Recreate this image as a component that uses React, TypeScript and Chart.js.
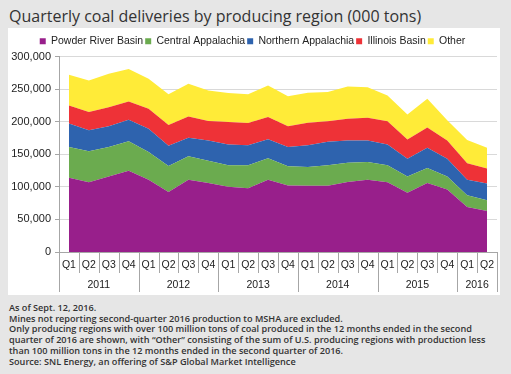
import { useEffect, useRef } from "react";
import { Chart, registerables } from "chart.js";
Chart.register(...registerables);

const quarters = ["Q1","Q2","Q3","Q4","Q1","Q2","Q3","Q4","Q1","Q2","Q3","Q4","Q1","Q2","Q3","Q4","Q1","Q2","Q3","Q4","Q1","Q2"];
const years = ["2011", "2012", "2013", "2014", "2015", "2016"];
const yearSpans = [4, 4, 4, 4, 4, 2];

const powderRiver = [114000,107000,116000,124500,111000,92000,111000,106000,100000,98000,111000,102000,101500,101500,107500,111000,107000,91000,106000,96000,69000,63000];
const centralApp = [47000,47500,45000,45500,42500,40000,36000,34000,33000,35000,33000,29500,29000,31500,29500,27000,26000,25000,23000,20000,18000,16500];
const northernApp = [36000,32500,32000,33000,35500,31000,28500,31000,32000,31000,29000,29500,33500,36000,34000,33000,32000,27000,31000,27000,24000,25500];
const illinois = [28000,28000,29000,28000,31000,32000,32500,30000,34500,34000,34000,32000,34500,31500,33500,35000,35500,29500,31000,28000,25000,23000];
const other = [47000,48000,51500,50000,46000,47000,50000,47000,44500,44000,48500,46000,46000,45000,49500,47000,39500,38500,44000,31000,36000,32000];

const yTicks = [0, 50000, 100000, 150000, 200000, 250000, 300000];

const footnotes = [
  "As of Sept. 12, 2016.",
  "Mines not reporting second-quarter 2016 production to MSHA are excluded.",
  "Only producing regions with over 100 million tons of coal produced in the 12 months ended in the second",
  "quarter of 2016 are shown, with \u201cOther\u201d consisting of the sum of U.S. producing regions with production less",
  "than 100 million tons in the 12 months ended in the second quarter of 2016.",
  "Source: SNL Energy, an offering of S&P Global Market Intelligence",
];

const FONT = "'Liberation Sans', Arial, sans-serif";

const xAxisPlugin = {
  id: "xAxisGroups",
  afterDraw(chart: any) {
    const ctx = chart.ctx;
    const x = chart.scales.x;
    const area = chart.chartArea;
    const n = quarters.length;
    const step = x.getPixelForValue(1) - x.getPixelForValue(0);
    const bottom = area.bottom;
    ctx.save();
    ctx.strokeStyle = "#a6a6a6";
    ctx.lineWidth = 1;
    ctx.fillStyle = "#222";
    ctx.font = "10.5px " + FONT;
    ctx.textAlign = "center";
    ctx.textBaseline = "middle";
    for (let i = 0; i < n; i++) {
      const c = x.getPixelForValue(i);
      ctx.fillText(quarters[i], c, bottom + 13);
      if (i > 0) {
        const b = Math.round(c - step / 2) + 0.5;
        ctx.beginPath();
        ctx.moveTo(b, bottom);
        ctx.lineTo(b, bottom + 21);
        ctx.stroke();
      }
    }
    let start = 0;
    for (let k = 0; k < years.length; k++) {
      const end = start + yearSpans[k] - 1;
      const l = x.getPixelForValue(start) - step / 2;
      const r = x.getPixelForValue(end) + step / 2;
      ctx.fillText(years[k], (l + r) / 2, bottom + 33);
      for (const b0 of [l, r]) {
        const b = Math.round(b0) + 0.5;
        ctx.beginPath();
        ctx.moveTo(b, bottom);
        ctx.lineTo(b, bottom + 40);
        ctx.stroke();
      }
      start = end + 1;
    }
    ctx.restore();
  },
};

export default function App() {
  const ref = useRef<HTMLCanvasElement>(null);
  useEffect(() => {
    if (!ref.current) return;
    const mk = (label: string, data: number[], color: string, fill: any) => ({
      label,
      data,
      backgroundColor: color,
      borderColor: color,
      borderWidth: 0,
      pointRadius: 0,
      fill,
      tension: 0,
    });
    const chart = new Chart(ref.current, {
      type: "line",
      data: {
        labels: quarters,
        datasets: [
          mk("Powder River Basin", powderRiver, "#981f8b", "origin"),
          mk("Central Appalachia", centralApp, "#6bab4f", "-1"),
          mk("Northern Appalachia", northernApp, "#2e63ae", "-1"),
          mk("Illinois Basin", illinois, "#ee3237", "-1"),
          mk("Other", other, "#ffeb38", "-1"),
        ],
      },
      options: {
        responsive: false,
        animation: false,
        layout: { padding: { left: 0, right: 3, top: 6, bottom: 0 } },
        plugins: {
          legend: {
            position: "top",
            labels: {
              boxWidth: 6,
              boxHeight: 6,
              padding: 2,
              color: "#222",
              font: { family: FONT, size: 10.5 },
            },
          },
          tooltip: { enabled: false },
        },
        scales: {
          x: {
            offset: true,
            grid: { display: false },
            border: { display: true, color: "#a6a6a6" },
            ticks: { display: false },
            afterFit(scale: any) { scale.height = 43; },
          },
          y: {
            stacked: true,
            min: 0,
            max: 300000,
            afterBuildTicks(scale: any) { scale.ticks = yTicks.map((v) => ({ value: v })); },
            grid: { color: "#d9d9d9", tickLength: 4, tickColor: "#a6a6a6" },
            border: { color: "#a6a6a6" },
            ticks: {
              color: "#222",
              padding: 4,
              font: { family: FONT, size: 11 },
              callback: (v: any) => Number(v).toLocaleString("en-US"),
            },
            afterFit(scale: any) { scale.width = 51; },
          },
        },
      },
      plugins: [xAxisPlugin],
    });
    return () => chart.destroy();
  }, []);

  return (
    <div style={{ position: "absolute", left: 0, top: 0, width: 511, height: 374, background: "#e6e6e6", overflow: "hidden", fontFamily: "'Open Sans', sans-serif", color: "#333" }}>
      <div style={{ position: "absolute", left: 9, top: 5, fontSize: 16, lineHeight: "22px", whiteSpace: "nowrap", color: "#333" }}>
        Quarterly coal deliveries by producing region (000 tons)
      </div>
      <div style={{ position: "absolute", left: 8, top: 28, width: 492, height: 267, background: "#fff" }}>
        <canvas ref={ref} width={492} height={267} style={{ width: 492, height: 267, display: "block" }} />
      </div>
      <div style={{ position: "absolute", left: 9, top: 303, fontSize: 9.15, lineHeight: "10.7px", fontWeight: 600, color: "#333" }}>
        {footnotes.map((t, i) => (
          <div key={i} style={{ whiteSpace: "nowrap" }}>{t}</div>
        ))}
      </div>
    </div>
  );
}
